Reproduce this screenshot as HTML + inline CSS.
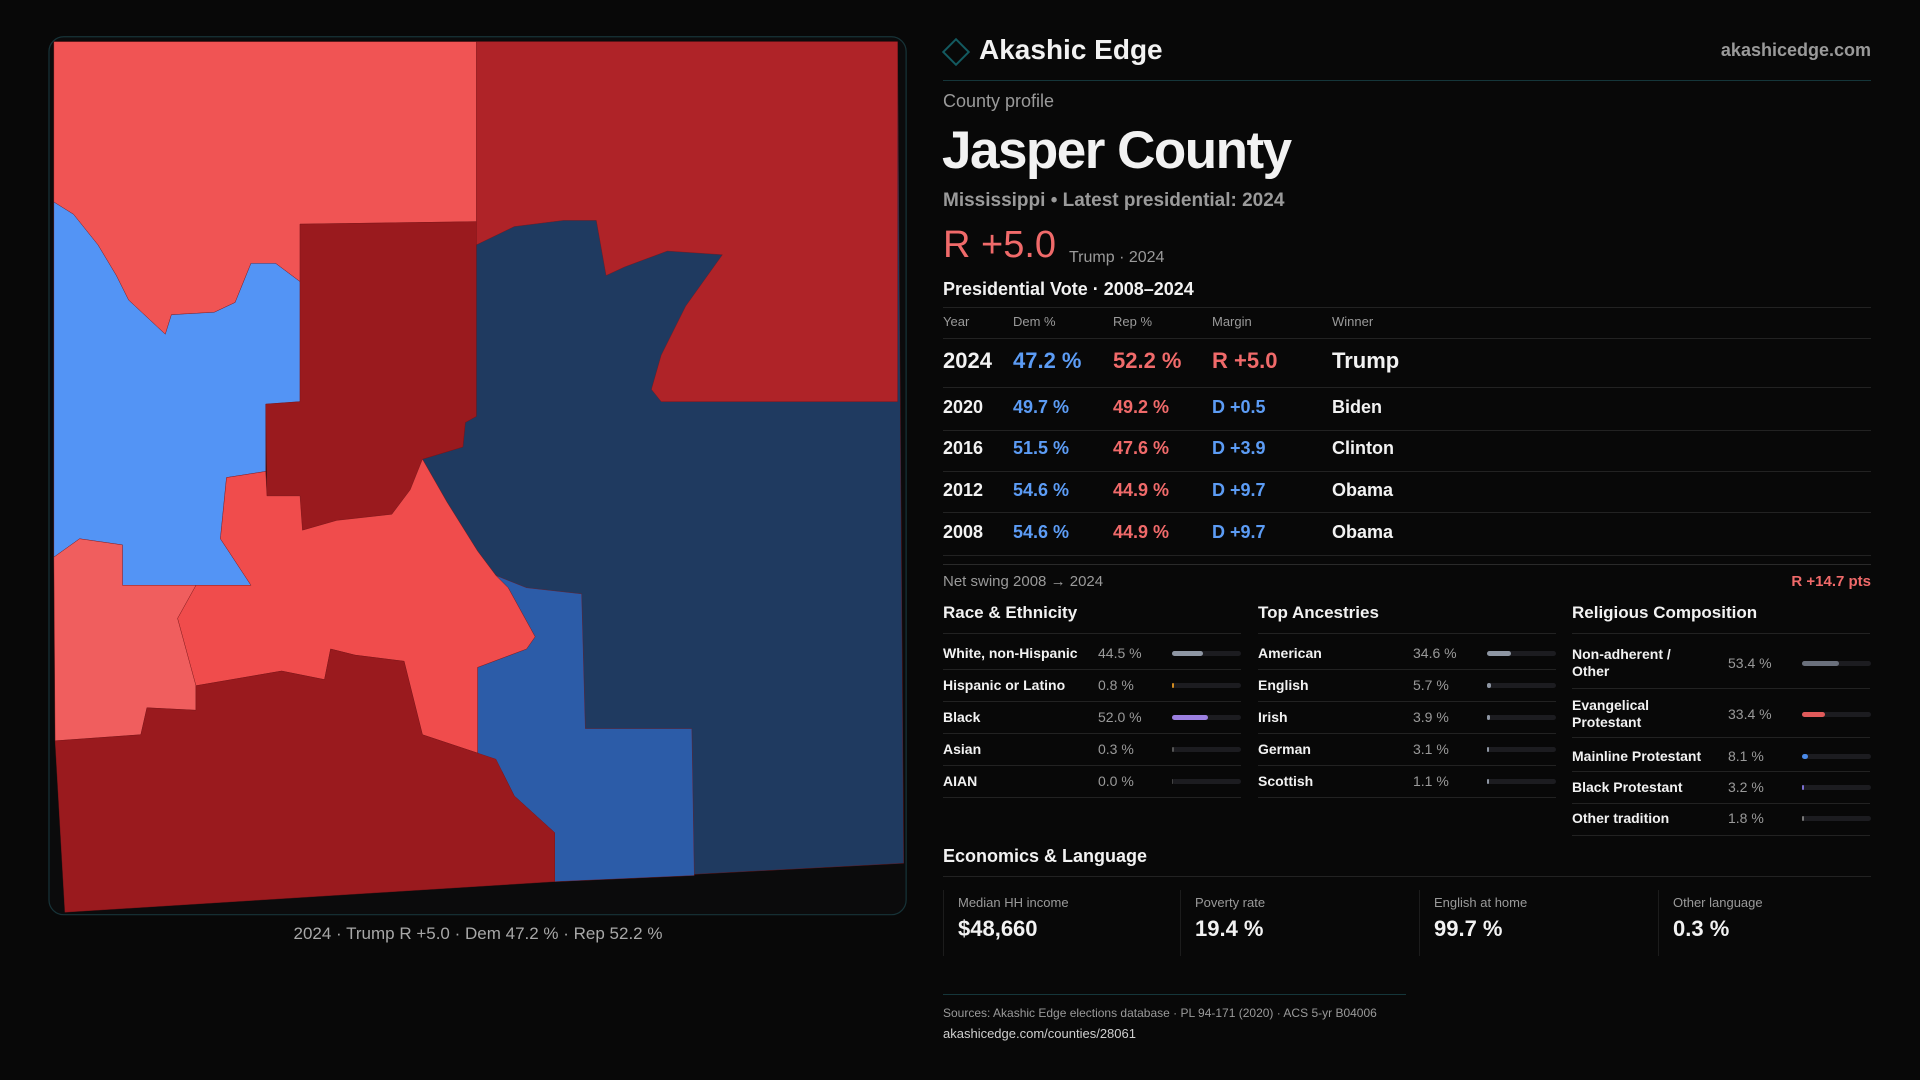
<!DOCTYPE html>
<html><head><meta charset="utf-8"><style>
*{margin:0;padding:0;box-sizing:border-box}
body{width:1920px;height:1080px;background:#080808;font-family:"Liberation Sans",sans-serif;color:#f2f2f2;position:relative;overflow:hidden}
.a{position:absolute;white-space:nowrap}
.g{color:#9a9a9a}.w{color:#f2f2f2}.b{color:#5c9cf5}.r{color:#f06a6a}
.hl{position:absolute;height:1px;background:#222}
</style></head><body>
<svg style="position:absolute;left:0;top:0" width="1920" height="1080" viewBox="0 0 1568 882">
<rect x="40" y="30" width="700" height="717" rx="12" fill="#0b0b0c" stroke="#173338" stroke-width="1"/>
<g stroke="#7a1418" stroke-width="0.3">
<polygon fill="#1f3a60" points="389,34 733,34 738,705 453,720 390,615 390,545 437,520 405,470 390,450 365,410 345,375 378,365 380,345 389,340"/>
<polygon fill="#af2328" points="389,34 733,34 733,328 540,328 532,318 540,290 560,250 590,208 545,205 510,218 495,225 487,180 460,180 420,185 389,200"/>
<polygon fill="#2c5ca8" points="405,470 430,480 475,485 478,595 565,595 567,715 453,720 453,680 420,650 410,630 390,615 390,545 430,530 437,520 415,480"/>
<polygon fill="#f05454" points="44,34 389,34 389,181 245,183 245,230 225,215 205,215 192,247 175,255 140,257 135,273 105,245 95,225 80,200 60,175 44,165"/>
<polygon fill="#5394f5" points="44,165 60,175 80,200 95,225 105,245 135,273 140,257 175,255 192,247 205,215 225,215 245,230 245,328 217,330 217,385 185,390 180,440 205,478 100,478 100,445 65,440 44,455"/>
<polygon fill="#9a1a1e" points="245,183 389,181 389,340 380,345 378,365 345,375 335,400 320,420 275,425 247,433 245,405 218,405 217,330 245,328"/>
<polygon fill="#f04c4c" points="185,390 217,385 218,405 245,405 247,433 275,425 320,420 335,400 345,375 365,410 390,450 405,470 415,480 437,520 430,530 390,545 390,615 345,600 330,540 290,535 270,530 265,555 230,548 160,560 145,505 160,478 205,478 180,440"/>
<polygon fill="#f05e5e" points="44,455 65,440 100,445 100,478 160,478 145,505 160,560 160,580 120,578 115,600 45,605"/>
<polygon fill="#9a1a1e" points="45,605 115,600 120,578 160,580 160,560 230,548 265,555 270,530 290,535 330,540 345,600 390,615 405,620 410,630 420,650 453,680 453,720 53,745"/>
</g>
</svg>
<div class="a g" style="left:0;width:956px;text-align:center;top:924px;font-size:17px;color:#a8a8a8">2024 · Trump R +5.0 · Dem 47.2 % · Rep 52.2 %</div>

<div class="a" style="left:946px;top:42px;width:20px;height:20px;border:2px solid #135a60;transform:rotate(45deg)"></div>
<div class="a w" style="left:979px;top:34px;font-size:28px;font-weight:bold">Akashic Edge</div>
<div class="a g" style="right:49px;top:40px;font-size:18px;font-weight:bold">akashicedge.com</div>
<div class="hl" style="left:943px;width:928px;top:80px;background:#15363a"></div>
<div class="a g" style="left:943px;top:91px;font-size:18px">County profile</div>
<div class="a w" style="left:942px;top:120px;font-size:53px;font-weight:bold;letter-spacing:-1.5px">Jasper County</div>
<div class="a g" style="left:943px;top:190px;font-size:19px;font-weight:bold">Mississippi • Latest presidential: 2024</div>
<div class="a r" style="left:943px;top:224px;font-size:38px">R +5.0</div>
<div class="a g" style="left:1069px;top:249px;font-size:16px">Trump · 2024</div>
<div class="a w" style="left:943px;top:279px;font-size:18px;font-weight:bold">Presidential Vote · 2008–2024</div>
<div id="vt"></div>
<div id="sec"></div>

<div class="a w" style="left:943px;top:846px;font-size:18px;font-weight:bold">Economics &amp; Language</div>
<div class="hl" style="left:943px;width:928px;top:876px"></div>
<div id="econ"></div>
<div class="hl" style="left:943px;width:463px;top:994px;background:#15363a"></div>
<div class="a g" style="left:943px;top:1006px;font-size:12px">Sources: Akashic Edge elections database · PL 94-171 (2020) · ACS 5-yr B04006</div>
<div class="a" style="left:943px;top:1026px;font-size:13px;color:#cfcfcf">akashicedge.com/counties/28061</div>

<script>
const years=["2024","2020","2016","2012","2008"];
const dem=[47.2,49.7,51.5,54.6,54.6];
const rep=[52.2,49.2,47.6,44.9,44.9];
const winners=["Trump","Biden","Clinton","Obama","Obama"];
const raceLabels=["White, non-Hispanic","Hispanic or Latino","Black","Asian","AIAN"];
const raceValues=[44.5,0.8,52.0,0.3,0.0];
const ancLabels=["American","English","Irish","German","Scottish"];
const ancValues=[34.6,5.7,3.9,3.1,1.1];
const relLabels=["Non-adherent /<br>Other","Evangelical<br>Protestant","Mainline Protestant","Black Protestant","Other tradition"];
const relValues=[53.4,33.4,8.1,3.2,1.8];
const econLabels=["Median HH income","Poverty rate","English at home","Other language"];
const econValues=["$48,660","19.4 %","99.7 %","0.3 %"];

function mk(parent,name,inter,style,html,cls){const d=document.createElement('div');d.className='a '+(cls||'');d.style.cssText=style;if(html!==undefined)d.innerHTML=html;


parent.appendChild(d);return d;}
const vt=document.getElementById('vt');
const cols=[943,1013,1113,1212,1332];
["Year","Dem %","Rep %","Margin","Winner"].forEach((h,i)=>mk(vt,'col-header','false',`left:${cols[i]}px;top:314px;font-size:13px`,h,'g'));
[307,338].forEach(y=>mk(vt,'table-rule','false',`left:943px;width:928px;top:${y}px;height:1px;background:#222`));
const rowY=[361,408,449,491,533];const lineY=[387,430,471,512,555];
years.forEach((y,i)=>{
 const fs=i==0?22:18,t=rowY[i]-fs*0.6;const m=rep[i]-dem[i];
 const mg=(m>0?'R +':'D +')+Math.abs(m).toFixed(1);
 mk(vt,'year-'+y,'false',`left:${cols[0]}px;top:${t}px;font-size:${fs}px;font-weight:bold`,y,'w');
 mk(vt,'dem-'+y,'false',`left:${cols[1]}px;top:${t}px;font-size:${fs}px;font-weight:bold`,dem[i].toFixed(1)+' %','b');
 mk(vt,'rep-'+y,'false',`left:${cols[2]}px;top:${t}px;font-size:${fs}px;font-weight:bold`,rep[i].toFixed(1)+' %','r');
 mk(vt,'margin-'+y,'false',`left:${cols[3]}px;top:${t}px;font-size:${fs}px;font-weight:bold`,mg,m>0?'r':'b');
 mk(vt,'winner-'+y,'false',`left:${cols[4]}px;top:${t}px;font-size:${fs}px;font-weight:bold`,winners[i],'w');
 mk(vt,'table-rule','false',`left:943px;width:928px;top:${lineY[i]}px;height:1px;background:#222`);
});
mk(vt,'table-rule','false',`left:943px;width:928px;top:564px;height:1px;background:#2a2a2a`);
const sw=(rep[0]-dem[0])-(rep[4]-dem[4]);
mk(vt,'net-swing-label','false','left:943px;top:573px;font-size:15px',"Net swing 2008 → 2024",'g');
mk(vt,'net-swing-value','false','right:49px;top:573px;font-size:15px;font-weight:bold',(sw>0?'R +':'D +')+Math.abs(sw).toFixed(1)+' pts','r');

const sec=document.getElementById('sec');
function section(x,title,labels,vals,rows,lines,colors,valX,barX,key){
 mk(sec,key+'-title','false',`left:${x}px;top:603px;font-size:17px;font-weight:bold`,title,'w');
 mk(sec,key+'-rule','false',`left:${x}px;width:298px;top:633px;height:1px;background:#222`);
 labels.forEach((l,i)=>{
  const two=l.indexOf('<br>')>=0;
  mk(sec,key+'-label','false',`left:${x}px;top:${rows[i]-(two?17:8)}px;font-size:14px;font-weight:bold;line-height:17px`,l,'w');
  mk(sec,key+'-value','false',`left:${valX}px;top:${rows[i]-8}px;font-size:14px`,vals[i].toFixed(1)+' %','g');
  mk(sec,key+'-bar-track','false',`left:${barX}px;top:${rows[i]-2}px;width:69px;height:5px;border-radius:3px;background:#1c1c20`);
  const w=Math.max(vals[i]>0?2:1,vals[i]/100*69);
  mk(sec,key+'-bar','false',`left:${barX}px;top:${rows[i]-2}px;width:${w}px;height:5px;border-radius:3px;background:${colors[i]}`);
  mk(sec,key+'-rule','false',`left:${x}px;width:298px;top:${lines[i]}px;height:1px;background:#222`);
 });
}
section(943,"Race &amp; Ethnicity",raceLabels,raceValues,[653,685,717,749,781],[669,701,733,765,797],["#8e96a3","#d08a20","#9b7fe0","#555","#444"],1098,1172,'race');
section(1258,"Top Ancestries",ancLabels,ancValues,[653,685,717,749,781],[669,701,733,765,797],["#8e96a3","#8e96a3","#8e96a3","#8e96a3","#8e96a3"],1413,1487,'ancestry');
section(1572,"Religious Composition",relLabels,relValues,[663,714,756,787,818],[688,737,771,803,835],["#6a707c","#e05a5a","#4a8ae8","#7b6fd0","#777"],1728,1802,'religion');

const econ=document.getElementById('econ');
[943,1180,1419,1658].forEach((x,i)=>{
 mk(econ,'stat-card','false',`left:${x}px;top:890px;width:1px;height:66px;background:#1c1c1c`);
 mk(econ,'stat-label','false',`left:${x+15}px;top:895px;font-size:13px`,econLabels[i],'g');
 mk(econ,'stat-value','false',`left:${x+15}px;top:916px;font-size:22px;font-weight:bold`,econValues[i],'w');
});
</script>
</body></html>
